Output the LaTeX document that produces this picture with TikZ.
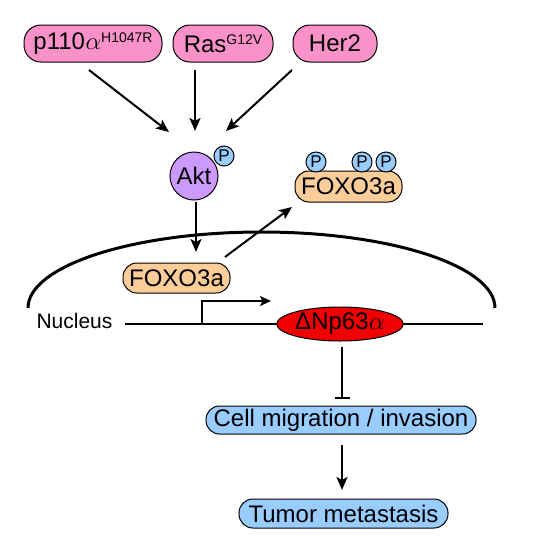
\documentclass[tikz,border=0pt]{standalone}
\usepackage{fontspec}
\setmainfont{Liberation Sans}
\usetikzlibrary{arrows.meta,shapes.geometric}
\definecolor{pinkbox}{RGB}{250,145,200}
\definecolor{aktpurple}{RGB}{204,153,255}
\definecolor{foxoorange}{RGB}{252,204,153}
\definecolor{lightblue}{RGB}{153,204,255}
\definecolor{redell}{RGB}{240,0,0}
\newcommand{\bigf}{\fontsize{24}{24}\selectfont}
\newcommand{\supf}[1]{\raisebox{7.5pt}{\fontsize{14}{14}\selectfont #1}}
\newcommand{\alf}{\kern0.5pt$\alpha$}
\begin{document}
\begin{tikzpicture}[x=1pt,y=-1pt,
  pill/.style={draw=black, line width=1pt, inner sep=0pt, font=\bigf},
  pcirc/.style={circle, draw=black, line width=1pt, fill=lightblue, minimum size=20pt, inner sep=0pt, font=\fontsize{17}{17}\selectfont},
  arr/.style={line width=2pt, -{Stealth[length=13pt,width=11pt,inset=3pt]}},
  smallarr/.style={line width=2pt, -{Stealth[length=11pt,width=10pt,inset=2.5pt]}},
  inhib/.style={line width=2pt, -{Bar[width=15pt]}}]
\useasboundingbox (0,0) rectangle (535,550);
% top boxes
\node[pill, fill=pinkbox, rounded corners=17pt, minimum width=138pt, minimum height=37pt] (p110) at (93,43.5) {p110\alf\supf{H1047R}};
\node[pill, fill=pinkbox, rounded corners=17pt, minimum width=100pt, minimum height=37pt] (ras) at (223,43.5) {Ras\supf{G12V}};
\node[pill, fill=pinkbox, rounded corners=17pt, minimum width=84pt, minimum height=37pt] (her2) at (335,43.5) {Her2};
% Akt
\node[circle, draw=black, line width=1pt, fill=aktpurple, minimum size=48pt, inner sep=0pt, font=\bigf] (akt) at (194,176) {Akt};
\node[pcirc] (aktp) at (224,156) {P};
% cytoplasmic FOXO3a
\node[pill, fill=foxoorange, rounded corners=14pt, minimum width=107pt, minimum height=31pt] (foxoc) at (348.5,186.5) {FOXO3a};
\node[pcirc] (fp1) at (316,162) {P};
\node[pcirc] (fp2) at (362,162) {P};
\node[pcirc] (fp3) at (386,162) {P};
% arrows into Akt
\coordinate (a1s) at (89,70);   \coordinate (a1e) at (169,132);
\coordinate (a2s) at (195,70);  \coordinate (a2e) at (195,131);
\coordinate (a3s) at (292,70);  \coordinate (a3e) at (226,131);
\draw[arr] (a1s) -- (a1e);
\draw[arr] (a2s) -- (a2e);
\draw[arr] (a3s) -- (a3e);
% nucleus envelope
\coordinate (envl) at (28,308);
\draw[line width=3pt] (envl) arc[start angle=180, end angle=0, x radius=233.5pt, y radius=76pt];
% nuclear FOXO3a
\node[pill, fill=foxoorange, rounded corners=14pt, minimum width=107pt, minimum height=30pt] (foxon) at (176.5,278) {FOXO3a};
\coordinate (ak1) at (196,202); \coordinate (ak2) at (196,252);
\draw[arr] (ak1) -- (ak2);
\coordinate (ex1) at (225,257); \coordinate (ex2) at (292,207);
\draw[arr] (ex1) -- (ex2);
% nucleus label and gene line
\node[font=\fontsize{21}{21}\selectfont, inner sep=0pt] (nuc) at (74.5,321) {Nucleus};
\coordinate (nl) at (125,324);
\coordinate (nr) at (483,324);
\node[ellipse, draw=black, line width=1pt, fill=redell, minimum width=126pt, minimum height=34pt, inner sep=0pt, font=\bigf] (dnp) at (340,324) {ΔNp63\alf};
\draw[line width=2pt] (nl) -- (dnp.west);
\draw[line width=2pt] (dnp.east) -- (nr);
\coordinate (prom) at (202,324);
\coordinate (promtip) at (271,301);
\draw[smallarr] (prom) |- (promtip);
% downstream
\node[pill, fill=lightblue, rounded corners=13.5pt, minimum width=270pt, minimum height=28pt] (cell) at (341,420) {Cell migration / invasion};
\node[pill, fill=lightblue, rounded corners=14pt, minimum width=209pt, minimum height=29pt] (tumor) at (343.5,513.5) {Tumor metastasis};
\coordinate (in1) at (342,347); \coordinate (in2) at (342,399);
\draw[inhib] (in1) -- (in2);
\coordinate (ct1) at (342,445); \coordinate (ct2) at (342,490);
\draw[arr] (ct1) -- (ct2);
\end{tikzpicture}
\end{document}
